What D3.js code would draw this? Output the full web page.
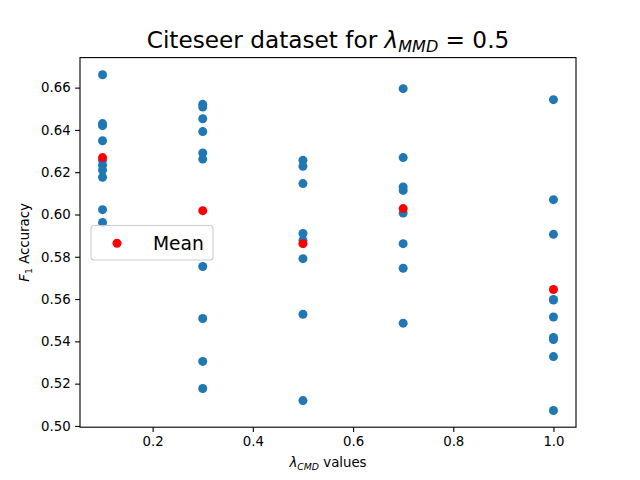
<!DOCTYPE html>
<html>
<head>
<meta charset="utf-8">
<script src="https://cdn.jsdelivr.net/npm/d3@7"></script>
<style>
  body { margin: 0; background: #fff; }
  text { font-family: "DejaVu Sans", sans-serif; fill: #000; }
</style>
</head>
<body>
<div id="chart"></div>
<script>
// lambda_CMD values on the x axis
var lambdaCmd = [0.1, 0.3, 0.5, 0.7, 1.0]

// F1 accuracy of each run, one list per lambda
var runs01 = [0.6661, 0.6430, 0.6420, 0.6349, 0.6256, 0.6233, 0.6210, 0.6176, 0.6023, 0.5962]
var runs03 = [0.6521, 0.6508, 0.6453, 0.6392, 0.6291, 0.6262, 0.5754, 0.5508, 0.5305, 0.5177]
var runs05 = [0.6256, 0.6228, 0.6146, 0.5910, 0.5877, 0.5791, 0.5528, 0.5120]
var runs07 = [0.6595, 0.6269, 0.6130, 0.6114, 0.6007, 0.5862, 0.5746, 0.5486]
var runs10 = [0.6543, 0.6070, 0.5906, 0.5598, 0.5595, 0.5515, 0.5418, 0.5409, 0.5328, 0.5073]

// mean per lambda (red dots)
var meanF1 = [0.6269, 0.6018, 0.5862, 0.6028, 0.5645]

var xTicks = [0.2, 0.4, 0.6, 0.8, 1.0]
var yTicks = [0.50, 0.52, 0.54, 0.56, 0.58, 0.60, 0.62, 0.64, 0.66]

var W = 640, H = 480
var mLeft = 80, mRight = 576, mTop = 57.6, mBottom = 427.2
var dotR = 4.5

var svg = d3.select('#chart').append('svg')
    .attr('width', W).attr('height', H)

var x = d3.scaleLinear().domain([0.055, 1.045]).range([mLeft, mRight])
var y = d3.scaleLinear().domain([0.4994, 0.6742]).range([mBottom, mTop])

var allRuns = [runs01, runs03, runs05, runs07, runs10]
var points = []
allRuns.forEach((list, i) => {
    list.forEach(v => points.push({lam: lambdaCmd[i], f1: v}))
})

// blue runs
svg.append('g').selectAll('circle')
    .data(points)
    .enter().append('circle')
    .attr('cx', d => x(d.lam))
    .attr('cy', d => y(d.f1))
    .attr('r', dotR)
    .attr('fill', '#1f77b4')

// red means
svg.append('g').selectAll('circle')
    .data(meanF1)
    .enter().append('circle')
    .attr('cx', (d, i) => x(lambdaCmd[i]))
    .attr('cy', d => y(d))
    .attr('r', dotR)
    .attr('fill', 'red')

// axes
svg.append('g')
    .attr('transform', `translate(0,${mBottom})`)
    .call(d3.axisBottom(x).tickValues(xTicks).tickFormat(d3.format('.1f')).tickSizeOuter(0).tickSize(4.9).tickPadding(4.5))
svg.append('g')
    .attr('transform', `translate(${mLeft},0)`)
    .call(d3.axisLeft(y).tickValues(yTicks).tickFormat(d3.format('.2f')).tickSizeOuter(0).tickSize(4.9).tickPadding(4.5))

svg.selectAll('.tick text').attr('font-size', 13.3).attr('font-family', '"DejaVu Sans", sans-serif')
svg.selectAll('.tick line').attr('stroke-width', 1.1)
svg.selectAll('.domain').remove()

// frame
svg.append('rect')
    .attr('x', mLeft).attr('y', mTop)
    .attr('width', mRight - mLeft).attr('height', mBottom - mTop)
    .attr('fill', 'none').attr('stroke', '#000').attr('stroke-width', 1.1)

// title
var title = svg.append('text')
    .attr('x', (mLeft + mRight) / 2).attr('y', 48)
    .attr('text-anchor', 'middle')
    .attr('font-size', 23.2)
title.append('tspan').text('Citeseer dataset for ')
title.append('tspan').attr('font-style', 'italic').text('λ')
title.append('tspan').attr('font-style', 'italic').attr('font-size', 16).attr('dy', 4).text('MMD')
title.append('tspan').attr('dy', -4).text(' = 0.5')

// x label
var xl = svg.append('text')
    .attr('x', (mLeft + mRight) / 2).attr('y', 467)
    .attr('text-anchor', 'middle')
    .attr('font-size', 13.3)
xl.append('tspan').attr('font-style', 'italic').text('λ')
xl.append('tspan').attr('font-style', 'italic').attr('font-size', 9.3).attr('dy', 3).text('CMD')
xl.append('tspan').attr('dy', -3).text(' values')

// y label
var yl = svg.append('text')
    .attr('transform', `translate(29,${(mTop + mBottom) / 2}) rotate(-90)`)
    .attr('text-anchor', 'middle')
    .attr('font-size', 13.3)
yl.append('tspan').attr('font-style', 'italic').text('F')
yl.append('tspan').attr('font-size', 9.3).attr('dy', 3).text('1')
yl.append('tspan').attr('dy', -3).text(' Accuracy')

// legend
svg.append('rect')
    .attr('x', 91).attr('y', 225.5)
    .attr('width', 122).attr('height', 34.5)
    .attr('rx', 3)
    .attr('fill', 'rgba(255,255,255,0.8)')
    .attr('stroke', '#cccccc').attr('stroke-width', 1.1)
svg.append('circle')
    .attr('cx', 117).attr('cy', 243.3).attr('r', dotR).attr('fill', 'red')
svg.append('text')
    .attr('x', 153).attr('y', 249.5)
    .attr('font-size', 18.7)
    .text('Mean')
</script>
</body>
</html>
